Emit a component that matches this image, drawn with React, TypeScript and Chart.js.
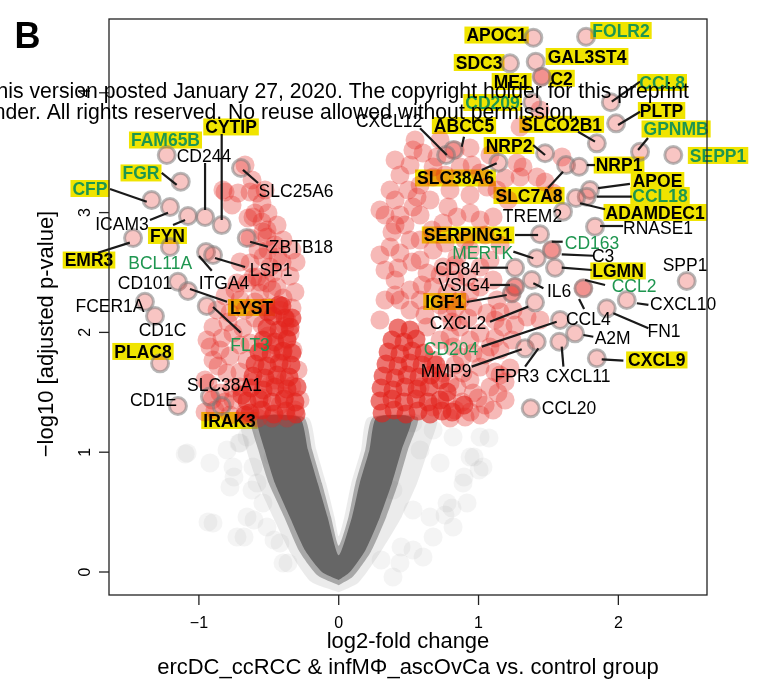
import React, { useEffect, useRef } from 'react';
import { Chart, registerables } from 'chart.js';
Chart.register(...registerables);

const FONT = '"Liberation Sans", Arial, Helvetica, sans-serif';

// ---- axis ranges / ticks ----
const X_MIN = -1.643, X_MAX = 2.634, Y_MIN = -0.192, Y_MAX = 4.616;
const xTicks = [-1, 0, 1, 2];
const xTickLabels = ['\u22121', '0', '1', '2'];
const yTicks = [0, 1, 2, 3, 4];
const yTickLabels = ['0', '1', '2', '3', '4'];

// ---- labelled genes (circles with grey ring) ----
const geneX = [-1.230, -0.956, -0.837, -0.699, -1.130, -1.338, -1.207, -1.078, -1.471, -1.207, -0.658, -0.949, -0.899, -1.150, -1.078, -0.944, -1.386, -1.314, -1.278, -1.150, -0.921, -0.837,
  1.392, 1.769, 1.225, 1.409, 1.452, 1.946, 1.385, 1.984, 0.820, 0.768, 1.476, 1.142, 1.846, 2.155, 2.393, 1.626, 1.719, 1.797, 1.774, 1.697, 1.604, 1.833, 1.440, 1.524, 1.416, 1.547, 1.261, 2.489, 1.261, 1.381, 1.238, 1.750, 2.060, 1.917, 1.404, 1.583, 1.690, 1.333, 1.416, 1.578, 1.846, 1.373];
const geneY = [3.481, 2.963, 2.896, 3.372, 3.258, 3.105, 3.047, 2.972, 2.788, 2.713, 2.788, 2.671, 2.646, 2.423, 2.346, 2.220, 2.256, 2.137, 1.742, 1.386, 1.464, 1.386,
  4.460, 4.468, 4.246, 4.260, 4.134, 3.921, 3.921, 3.745, 3.523, 3.481, 3.495, 3.417, 3.578, 3.508, 3.481, 3.397, 3.383, 3.189, 3.133, 3.122, 3.008, 2.882, 2.819, 2.688, 2.619, 2.540, 2.540, 2.429, 2.381, 2.437, 2.326, 2.368, 2.270, 2.201, 2.251, 2.104, 1.992, 1.867, 1.922, 1.922, 1.784, 1.366];

// ---- significant (red) genes ----
const redX = [-0.670, -0.813, -0.720, -0.584, -0.599, -0.649, -0.513, -0.828, -0.634, -0.613, -0.542, -0.513, -0.577, -0.542, -0.634, -0.492, -0.584, -0.513, -0.728, -0.899, -0.942, -0.849, -0.899, -0.756, -0.799, -0.706, -0.849, -0.756, -0.420, -0.370, -0.563, -0.513, -0.656, -0.613, -0.470, -0.441, -0.706, -0.778, -0.870, -0.348, -0.327, -0.656, -0.634, -0.921, -0.956, -0.885, -0.778, -0.563, -0.420, -0.313, -0.492, -0.384, -0.277, -0.291, -0.456, -0.549, -0.456, -0.405, -0.477,
  0.496, 0.603, 0.675, 0.703, 0.675, 0.868, 0.954, 1.011, 1.061, 1.132, 1.275, 1.297, 1.318, 1.418, 1.476, 1.533, 1.597, 0.782, 0.846, 0.940, 1.011, 1.104, 0.746, 0.653, 0.560, 1.297, 1.440, 1.452, 0.531, 0.367, 0.438, 0.510, 0.582, 0.675, 0.632, 0.746, 0.846, 0.940, 1.011, 1.082, 0.918, 1.011, 1.104, 1.132, 1.247, 1.347, 1.440, 1.175, 1.061, 0.961, 0.868, 0.775, 0.675, 0.582, 0.775, 0.868, 1.011, 1.082, 0.961, 0.818, 0.725, 0.632, 0.889, 1.011, 1.082, 0.961, 0.846, 0.746, 0.675, 0.775, 0.675, 0.582, 0.438, 0.403, 0.331, 0.295, 0.832, 0.940, 1.047, 1.190, 1.154, 0.295, 0.403, 0.438, 0.531, 0.403, 1.524, 1.750, 1.261, 1.238];
const redY = [3.397, 3.172, 3.164, 3.164, 2.997, 2.955, 2.855, 3.189, 3.172, 2.963, 2.838, 2.796, 2.688, 2.629, 2.579, 2.546, 2.462, 2.412, 2.412, 2.045, 1.937, 1.853, 1.770, 1.995, 1.661, 1.544, 1.494, 1.436, 2.187, 2.104, 2.329, 2.212, 2.412, 2.462, 2.496, 2.379, 2.270, 2.162, 2.187, 1.995, 1.853, 1.770, 1.912, 1.878, 1.603, 1.352, 1.311, 1.352, 1.394, 1.352, 1.561, 1.603, 1.436, 1.686, 1.895, 2.062, 2.730, 2.588, 2.354,
  3.189, 3.497, 3.381, 3.464, 3.297, 3.381, 3.397, 3.331, 3.214, 3.189, 3.414, 3.297, 3.381, 3.297, 3.255, 3.164, 3.464, 3.047, 2.963, 2.997, 2.938, 2.963, 2.913, 3.105, 3.130, 3.715, 3.856, 4.134, 3.047, 2.713, 2.663, 2.771, 2.604, 2.688, 2.496, 2.546, 2.629, 2.688, 2.546, 2.604, 2.462, 2.379, 2.437, 2.270, 2.187, 2.129, 2.104, 2.045, 2.162, 2.212, 2.270, 2.329, 2.379, 2.270, 2.162, 2.045, 1.995, 1.878, 1.828, 1.878, 1.937, 2.045, 1.661, 1.711, 1.544, 1.494, 1.544, 1.661, 1.770, 1.436, 1.377, 1.544, 2.270, 2.437, 2.270, 2.104, 1.352, 1.336, 1.394, 1.436, 1.644, 3.022, 2.896, 3.314, 3.523, 3.105, 2.688, 2.368, 2.381, 2.326];
const redMoreX = [-0.956, -0.670, -0.577, -0.477, -0.370, -0.906, -0.813, -0.549, -0.384, -0.935, -0.763, -0.620, -0.456, -0.334, -0.863, -0.706, -0.549, -0.406, -0.778, -0.549, -0.406, -0.835, -0.706, -0.506, -0.370, -0.792, -0.685, -0.599, -0.384, -0.670, -0.599, -0.334, -0.813, -0.742, -0.398, -0.313, -0.563, -0.348, -0.305, -0.706, -0.434, -0.334, -0.506, -0.398, -0.634, -0.549, -0.441, -0.763, -0.549, -0.506, -0.620, -0.527,
  0.796, 0.904, 1.011, 1.104, 0.882, 0.996, 1.139, 0.796, 0.939, 1.190, 0.832, 1.118, 1.225, 0.882, 1.047, 1.154, 0.796, 0.939, 1.118, 1.240, 0.811, 0.925, 1.118, 1.261, 0.510, 0.617, 0.725, 0.832, 1.154, 0.403, 0.510, 0.596, 0.832, 0.939, 0.331, 0.424, 0.524, 0.725, 0.832, 0.295, 0.381, 0.474, 0.582, 0.761, 0.904, 0.331, 0.438, 0.582, 0.667, 1.047, 1.154, 0.367, 0.582, 0.796, 0.939, 1.211, 0.403, 0.510, 0.761, 0.832, 1.082, 1.190, 0.546, 0.725, 0.939];
const redMoreY = [1.336, 1.327, 1.285, 1.285, 1.285, 1.436, 1.419, 1.452, 1.469, 1.578, 1.536, 1.586, 1.603, 1.553, 1.720, 1.669, 1.703, 1.745, 1.803, 1.836, 1.836, 1.953, 1.895, 1.970, 1.937, 2.087, 2.037, 2.120, 2.053, 2.187, 2.254, 2.204, 2.304, 2.354, 2.287, 2.337, 2.421, 2.471, 2.588, 2.588, 2.629, 2.688, 2.688, 2.771, 2.788, 2.922, 2.896, 3.063, 3.080, 2.997, 3.272, 3.189,
  1.285, 1.294, 1.311, 1.352, 1.419, 1.452, 1.494, 1.578, 1.603, 1.586, 1.728, 1.669, 1.703, 1.795, 1.811, 1.853, 1.970, 1.937, 1.953, 1.937, 2.087, 2.120, 2.104, 2.062, 2.187, 2.145, 2.229, 2.204, 2.170, 2.312, 2.354, 2.396, 2.437, 2.337, 2.521, 2.538, 2.588, 2.479, 2.563, 2.646, 2.838, 2.896, 2.771, 2.746, 2.771, 2.980, 2.980, 2.980, 2.855, 2.813, 2.730, 3.189, 3.230, 3.189, 3.147, 3.105, 3.439, 3.397, 3.314, 3.523, 3.481, 3.289, 3.606, 3.606, 3.539];

// densely packed significant genes just above the threshold
const redDenseX = [-0.634, -0.549, -0.463, -0.377, -0.305, -0.656, -0.570, -0.477, -0.391, -0.313, -0.627, -0.541, -0.456, -0.370, -0.298, -0.613, -0.527, -0.441, -0.355, -0.599, -0.513, -0.427, -0.341, -0.570, -0.484, -0.398, -0.334, -0.541, -0.456, -0.370, -0.513, -0.427, -0.348, -0.470, -0.384, -0.427, -0.406, -0.506, -0.334, -0.670, -0.692,
  0.310, 0.396, 0.481, 0.567, 0.653, 0.739, 0.295, 0.381, 0.467, 0.553, 0.639, 0.725, 0.303, 0.388, 0.474, 0.560, 0.646, 0.317, 0.403, 0.489, 0.574, 0.660, 0.338, 0.424, 0.510, 0.596, 0.353, 0.438, 0.524, 0.610, 0.381, 0.467, 0.553, 0.424, 0.510, 0.811, 0.896, 0.775, 0.725, 0.696];
const redDenseY = [1.327, 1.352, 1.319, 1.344, 1.319, 1.427, 1.444, 1.419, 1.444, 1.419, 1.536, 1.519, 1.544, 1.528, 1.544, 1.636, 1.619, 1.644, 1.628, 1.736, 1.720, 1.745, 1.728, 1.836, 1.820, 1.845, 1.828, 1.937, 1.920, 1.945, 2.037, 2.020, 2.045, 2.137, 2.120, 2.229, 2.220, 2.170, 2.120, 1.311, 1.478,
  1.327, 1.352, 1.319, 1.344, 1.319, 1.344, 1.427, 1.444, 1.419, 1.444, 1.419, 1.436, 1.536, 1.519, 1.544, 1.528, 1.544, 1.636, 1.619, 1.644, 1.628, 1.644, 1.736, 1.720, 1.745, 1.728, 1.836, 1.820, 1.845, 1.828, 1.937, 1.920, 1.945, 2.037, 2.020, 1.336, 1.394, 1.503, 1.603, 1.728];

// dense non-significant (grey) cloud outline, with two soft margins
const greyCoreX = [0.00, -0.12, -0.24, -0.35, -0.456, -0.53, -0.58, -0.28, -0.22, -0.15, -0.08, 0.00, 0.095, 0.15, 0.22, 0.27, 0.52, 0.45, 0.38, 0.295, 0.19, 0.08];
const greyCoreY = [-0.067, 0.0, 0.18, 0.46, 0.74, 1.02, 1.29, 1.29, 1.02, 0.74, 0.46, 0.14, 0.46, 0.74, 1.02, 1.29, 1.29, 1.02, 0.74, 0.46, 0.18, 0.0];
const greyHalo1X = [0.00, -0.15, -0.28, -0.39, -0.50, -0.575, -0.625, -0.25, -0.19, -0.12, -0.055, 0.00, 0.07, 0.12, 0.19, 0.245, 0.565, 0.495, 0.425, 0.34, 0.23, 0.10];
const greyHalo1Y = [-0.11, -0.03, 0.17, 0.46, 0.74, 1.02, 1.29, 1.29, 1.02, 0.74, 0.46, 0.22, 0.46, 0.74, 1.02, 1.29, 1.29, 1.02, 0.74, 0.46, 0.17, -0.04];
const greyHalo2X = [0.00, -0.20, -0.34, -0.47, -0.58, -0.66, -0.70, -0.22, -0.16, -0.09, -0.03, 0.00, 0.04, 0.09, 0.16, 0.21, 0.70, 0.64, 0.56, 0.45, 0.29, 0.14];
const greyHalo2Y = [-0.17, -0.08, 0.15, 0.46, 0.74, 1.02, 1.29, 1.29, 1.02, 0.74, 0.46, 0.30, 0.46, 0.74, 1.02, 1.29, 1.29, 1.02, 0.74, 0.46, 0.15, -0.09];

// scattered non-significant genes
const greyX = [-1.084, -0.921, -0.799, -0.706, -0.656, -0.756, -0.899, -0.728, -0.584, -0.542, -0.513, -0.420, -0.656, -0.398, -0.470, -0.613, -0.778, 0.531, 0.675, 0.818, 0.940, 1.011, 1.032, 0.889, 0.775, 0.653, 0.818, 0.675, 0.531, 0.438, 0.388, 0.603, 0.388, 0.531, 0.725, 0.582, 0.918, -1.098, -0.713, -0.749, -0.620, -0.935, -0.677, -0.606, -0.463, -0.363, 0.760, 0.810, 0.968, 1.075, 1.004, 0.446, 0.303, 0.896];
const greyY = [0.993, 0.910, 1.018, 1.077, 1.127, 0.876, 0.409, 0.292, 0.743, 0.576, 0.376, 0.242, 0.459, 0.075, 0.960, 0.876, 0.710, 1.244, 1.185, 1.127, 0.960, 1.127, 0.876, 0.743, 0.576, 0.459, 0.376, 0.292, 0.184, 0.075, -0.042, 0.125, 0.684, 0.518, 0.910, 1.018, 0.576, 0.985, 1.077, 0.793, 0.684, 0.417, 0.292, 0.434, 0.267, 0.075, 0.476, 0.534, 0.960, 1.119, 0.851, 0.209, 0.100, 0.793];

// ---- gene labels: text, position, style (Y bold/yellow, G green/yellow, g green, k black) ----
const labelText = ['FAM65B', 'CD244', 'CYTIP', 'SLC25A6', 'FGR', 'CFP', 'ICAM3', 'FYN', 'EMR3', 'ZBTB18', 'BCL11A', 'LSP1', 'ITGA4', 'CD101', 'LYST', 'FLT3', 'FCER1A', 'CD1C', 'PLAC8', 'CD1E', 'SLC38A1', 'IRAK3',
  'APOC1', 'FOLR2', 'SDC3', 'GAL3ST4', 'ME1', 'C2', 'CCL8', 'CD209', 'PLTP', 'ABCC5', 'SLCO2B1', 'CXCL12', 'NRP2', 'SLC38A6', 'GPNMB', 'SEPP1', 'NRP1', 'SLC7A8', 'APOE', 'CCL18', 'ADAMDEC1', 'TREM2', 'RNASE1', 'SERPING1', 'CD163', 'C3', 'MERTK', 'LGMN', 'CD84', 'SPP1', 'VSIG4', 'IL6', 'IGF1', 'CCL2', 'CXCL10', 'CCL4', 'FN1', 'CXCL2', 'CD204', 'A2M', 'MMP9', 'FPR3', 'CXCL11', 'CXCL9', 'CCL20'];
const labelX = [-1.239, -0.964, -0.770, -0.305, -1.414, -1.779, -1.550, -1.225, -1.786, -0.270, -1.277, -0.484, -0.820, -1.385, -0.624, -0.634, -1.636, -1.260, -1.400, -1.325, -0.817, -0.781,
  1.129, 2.019, 1.004, 1.776, 1.237, 1.594, 2.313, 1.100, 2.309, 0.896, 1.595, 0.360, 1.218, 0.835, 2.413, 2.713, 2.005, 1.361, 2.280, 2.298, 2.263, 1.386, 2.284, 0.925, 1.812, 1.891, 1.029, 1.998, 0.850, 2.477, 0.896, 1.576, 0.758, 2.112, 2.463, 1.785, 2.327, 0.853, 0.803, 1.959, 0.768, 1.275, 1.712, 2.275, 1.647];
const labelY = [3.606, 3.472, 3.715, 3.180, 3.331, 3.201, 2.905, 2.809, 2.604, 2.713, 2.579, 2.521, 2.412, 2.412, 2.208, 1.899, 2.220, 2.024, 1.841, 1.440, 1.565, 1.265,
  4.482, 4.520, 4.253, 4.303, 4.094, 4.121, 4.086, 3.919, 3.852, 3.727, 3.737, 3.765, 3.560, 3.289, 3.698, 3.477, 3.397, 3.143, 3.268, 3.143, 3.001, 2.976, 2.876, 2.813, 2.750, 2.642, 2.667, 2.513, 2.535, 2.567, 2.400, 2.350, 2.258, 2.391, 2.237, 2.118, 2.012, 2.083, 1.861, 1.957, 1.682, 1.640, 1.640, 1.770, 1.369];
const labelStyle = ['G', 'k', 'Y', 'k', 'G', 'G', 'k', 'Y', 'Y', 'k', 'g', 'k', 'k', 'k', 'Y', 'g', 'k', 'k', 'Y', 'k', 'k', 'Y',
  'Y', 'G', 'Y', 'Y', 'Y', 'Y', 'G', 'G', 'Y', 'Y', 'Y', 'k', 'Y', 'Y', 'G', 'G', 'Y', 'Y', 'Y', 'G', 'Y', 'k', 'k', 'Y', 'g', 'k', 'g', 'Y', 'k', 'k', 'k', 'k', 'Y', 'g', 'k', 'k', 'k', 'k', 'g', 'k', 'k', 'k', 'k', 'Y', 'k'];

// leader lines [x1, y1, x2, y2]
const leaderLines = [
  [-0.956, 3.414, -0.956, 3.022], [-0.837, 3.656, -0.837, 2.938], [-0.685, 3.356, -0.577, 3.247], [-1.266, 3.331, -1.159, 3.231],
  [-1.636, 3.197, -1.373, 3.091], [-1.350, 2.938, -1.221, 2.999], [-1.185, 2.896, -1.099, 2.938], [-1.722, 2.665, -1.494, 2.749],
  [-0.634, 2.757, -0.506, 2.715], [-0.999, 2.638, -0.908, 2.515], [-0.885, 2.621, -0.670, 2.546], [-1.064, 2.362, -0.799, 2.256],
  [-0.899, 2.212, -0.701, 1.998],
  [1.953, 3.926, 2.155, 4.093], [1.998, 3.731, 2.155, 3.842], [0.880, 3.550, 0.896, 3.634], [0.582, 3.704, 0.773, 3.481],
  [1.390, 3.564, 1.476, 3.481], [1.023, 3.356, 1.130, 3.412], [1.712, 3.675, 1.833, 3.592], [2.212, 3.623, 2.141, 3.523],
  [1.774, 3.397, 1.833, 3.397], [1.497, 3.205, 1.604, 3.341], [1.855, 3.205, 2.083, 3.239], [1.846, 3.133, 2.096, 3.133],
  [1.726, 3.078, 1.905, 3.028], [1.869, 2.888, 2.034, 2.888], [1.261, 2.813, 1.426, 2.813], [1.524, 2.757, 1.602, 2.757],
  [1.595, 2.652, 1.821, 2.640], [1.249, 2.674, 1.392, 2.619], [1.595, 2.540, 1.810, 2.521], [1.011, 2.540, 1.211, 2.540],
  [1.082, 2.396, 1.225, 2.396], [1.392, 2.410, 1.464, 2.368], [0.916, 2.254, 1.202, 2.312], [1.762, 2.437, 1.905, 2.396],
  [1.719, 2.279, 1.755, 2.195], [2.132, 2.243, 2.215, 2.229], [1.964, 2.159, 2.215, 2.034], [1.082, 2.089, 1.356, 2.215],
  [1.023, 1.881, 1.559, 2.089], [1.750, 1.978, 1.821, 1.964], [0.951, 1.714, 1.309, 1.859], [1.333, 1.714, 1.428, 1.867],
  [1.595, 1.881, 1.607, 1.714], [1.881, 1.775, 2.036, 1.764],
];

const watermark1 = 'this version posted January 27, 2020. The copyright holder for this preprint';
const watermark2 = '(which was not certified by peer review) is the author/funder. All rights reserved. No reuse allowed without permission.';
const xTitle1 = 'log2-fold change';
const xTitle2 = 'ercDC_ccRCC & infM\u03A6_ascOvCa vs. control group';
const yTitle = '\u2212log10 [adjusted p-value]';
const panelLetter = 'B';

const YELLOW = 'rgb(240,228,0)';
const GREEN = '#1e9650';
const LF = 17.5;

function pts(xs: number[], ys: number[]) {
  return xs.map((x, i) => ({ x, y: ys[i] }));
}
function closed(xs: number[], ys: number[]) {
  const p = pts(xs, ys);
  p.push({ ...p[0] });
  return p;
}
function poly(xs: number[], ys: number[], color: string, order: number, tension: number) {
  return {
    type: 'line',
    data: closed(xs, ys),
    showLine: true,
    fill: 'shape',
    backgroundColor: color,
    borderWidth: 0,
    pointRadius: 0,
    tension,
    order,
  };
}

export default function App() {
  const ref = useRef<HTMLCanvasElement>(null);
  useEffect(() => {
    const canvas = ref.current!;
    const decor = {
      id: 'decor',
      beforeDatasetsDraw(chart: any) {
        const ctx = chart.ctx;
        const xs = chart.scales.x, ys = chart.scales.y;
        ctx.save();
        labelText.forEach((t, i) => {
          const st = labelStyle[i];
          if (st !== 'Y' && st !== 'G') return;
          ctx.font = `bold ${LF}px ${FONT}`;
          const w = ctx.measureText(t).width;
          const cx = xs.getPixelForValue(labelX[i]);
          const cy = ys.getPixelForValue(labelY[i]);
          ctx.fillStyle = YELLOW;
          ctx.fillRect(cx - w / 2 - 2, cy - 8.5, w + 4, 17);
        });
        ctx.restore();
      },
      afterDatasetsDraw(chart: any) {
        const ctx = chart.ctx;
        const xs = chart.scales.x, ys = chart.scales.y;
        const a = chart.chartArea;
        const px = (v: number) => xs.getPixelForValue(v);
        const py = (v: number) => ys.getPixelForValue(v);
        ctx.save();
        ctx.strokeStyle = '#1a1a1a';
        ctx.lineWidth = 2.2;
        leaderLines.forEach((l) => {
          ctx.beginPath();
          ctx.moveTo(px(l[0]), py(l[1]));
          ctx.lineTo(px(l[2]), py(l[3]));
          ctx.stroke();
        });
        ctx.textAlign = 'center';
        ctx.textBaseline = 'alphabetic';
        labelText.forEach((t, i) => {
          const st = labelStyle[i];
          const bold = st === 'Y' || st === 'G';
          ctx.font = `${bold ? 'bold ' : ''}${LF}px ${FONT}`;
          ctx.fillStyle = st === 'G' || st === 'g' ? GREEN : '#000';
          ctx.fillText(t, px(labelX[i]), py(labelY[i]) + 0.358 * LF);
        });
        ctx.strokeStyle = '#222';
        ctx.lineWidth = 1.3;
        ctx.strokeRect(a.left, a.top, a.right - a.left, a.bottom - a.top);
        ctx.font = `16px ${FONT}`;
        ctx.fillStyle = '#000';
        xTicks.forEach((v, i) => {
          const x = px(v);
          ctx.beginPath();
          ctx.moveTo(x, a.bottom);
          ctx.lineTo(x, a.bottom + 10);
          ctx.stroke();
          ctx.textAlign = 'center';
          ctx.fillText(xTickLabels[i], x, 628);
        });
        yTicks.forEach((v, i) => {
          const y = py(v);
          ctx.beginPath();
          ctx.moveTo(a.left - 10, y);
          ctx.lineTo(a.left, y);
          ctx.stroke();
          ctx.save();
          ctx.translate(84, y);
          ctx.rotate(-Math.PI / 2);
          ctx.textAlign = 'center';
          ctx.fillText(yTickLabels[i], 0, 5.7);
          ctx.restore();
        });
        ctx.font = `22px ${FONT}`;
        ctx.textAlign = 'center';
        ctx.fillText(xTitle1, (a.left + a.right) / 2, 648);
        ctx.fillText(xTitle2, (a.left + a.right) / 2, 674);
        ctx.save();
        ctx.translate(45, 334);
        ctx.rotate(-Math.PI / 2);
        ctx.fillText(yTitle, 0, 8);
        ctx.restore();
        ctx.font = `bold 36px ${FONT}`;
        ctx.textAlign = 'left';
        ctx.fillText(panelLetter, 14.5, 48.3);
        ctx.font = `21.2px ${FONT}`;
        ctx.textAlign = 'right';
        ctx.fillText(watermark1, 689, 98);
        ctx.fillText(watermark2, 579, 119);
        ctx.restore();
      },
    };

    const chart = new Chart(canvas, {
      type: 'scatter',
      data: {
        datasets: [
          {
            data: pts(geneX, geneY),
            pointRadius: 8.5,
            pointBorderWidth: 3,
            pointBackgroundColor: 'rgba(228,40,35,0.27)',
            pointBorderColor: 'rgba(125,125,125,0.55)',
            order: 0,
          },
          {
            data: pts(redX, redY).concat(pts(redMoreX, redMoreY)),
            pointRadius: 9.5,
            pointBorderWidth: 0,
            pointBackgroundColor: 'rgba(228,38,32,0.32)',
            order: 1,
          },
          {
            data: pts(redDenseX, redDenseY),
            pointRadius: 9.5,
            pointBorderWidth: 0,
            pointBackgroundColor: 'rgba(226,34,28,0.62)',
            order: 2,
          },
          poly(greyCoreX, greyCoreY, 'rgb(102,102,102)', 3, 0.2),
          poly(greyHalo1X, greyHalo1Y, 'rgba(102,102,102,0.5)', 4, 0.2),
          poly(greyHalo2X, greyHalo2Y, 'rgba(130,130,130,0.16)', 5, 0.2),
          {
            data: pts(greyX, greyY),
            pointRadius: 9.5,
            pointBorderWidth: 0,
            pointBackgroundColor: 'rgba(150,150,150,0.1)',
            order: 6,
          },
        ] as any,
      },
      options: {
        responsive: false,
        animation: false,
        layout: { padding: { left: 109, right: 56, top: 19, bottom: 102 } },
        plugins: { legend: { display: false }, tooltip: { enabled: false } },
        scales: {
          x: { type: 'linear', min: X_MIN, max: X_MAX, display: false },
          y: { type: 'linear', min: Y_MIN, max: Y_MAX, display: false },
        },
      },
      plugins: [decor],
    });
    return () => chart.destroy();
  }, []);

  return (
    <div style={{ position: 'absolute', left: 0, top: 0, width: 763, height: 697, background: '#fff' }}>
      <canvas ref={ref} width={763} height={697} style={{ display: 'block' }} />
    </div>
  );
}
